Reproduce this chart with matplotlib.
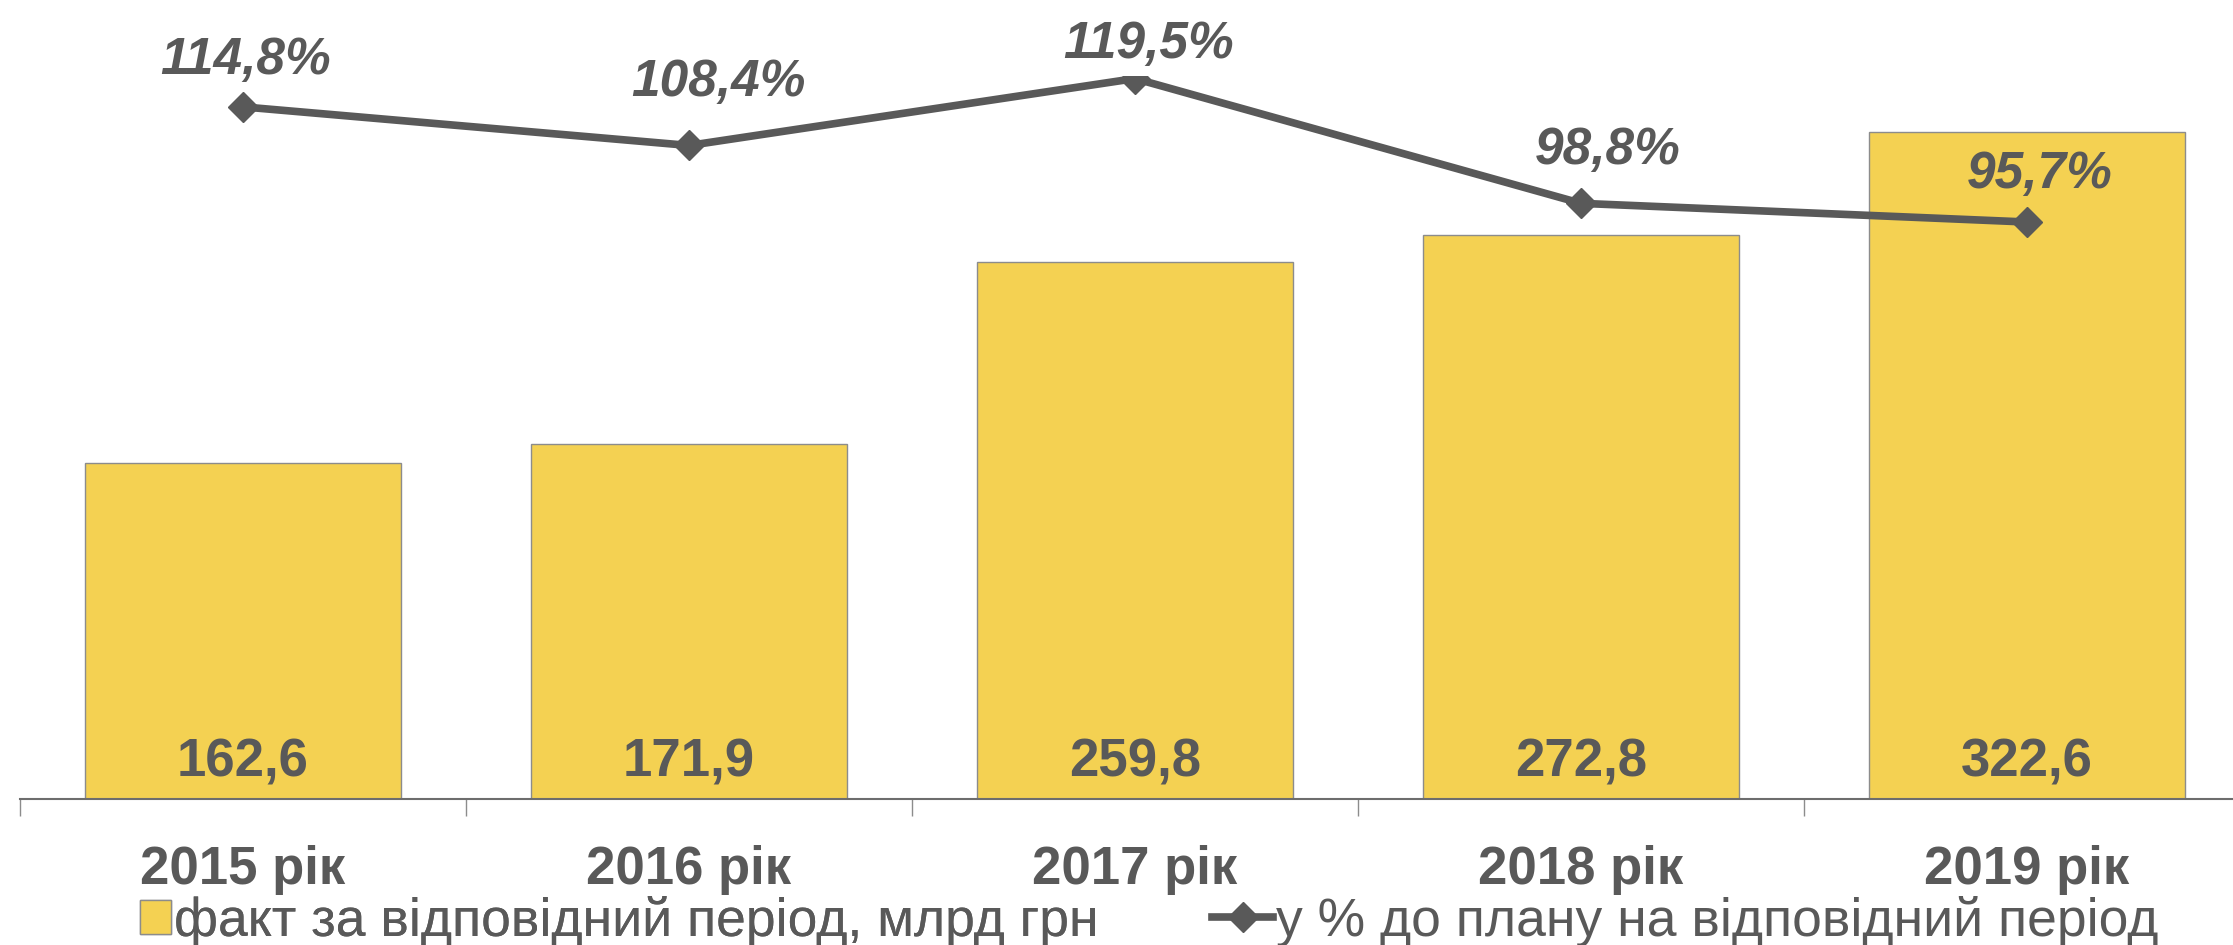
import matplotlib.pyplot as plt
from matplotlib.lines import Line2D
from matplotlib.patches import Patch

years = ['2015 рік', '2016 рік', '2017 рік', '2018 рік', '2019 рік']
fact = [162.6, 171.9, 259.8, 272.8, 322.6]
pct_plan = [114.8, 108.4, 119.5, 98.8, 95.7]

bar_label = 'факт за відповідний період, млрд грн'
line_label = 'у % до плану на відповідний період'

# label offsets (points) for the percent labels, as placed in the original
pct_dx = [2, 21, 10, 19, 9]
pct_dy = [24, 36, 15, 29, 25]

TEXT = '#595959'
BAR = '#F4D152'
plt.rcParams['font.family'] = ['Liberation Sans', 'DejaVu Sans']

fig = plt.figure(figsize=(22.33, 9.455), dpi=100)
ax = fig.add_axes([20 / 2233, 1 - 799 / 945, 2230 / 2233, 723 / 945])
ax2 = ax.twinx()

x = list(range(len(years)))
ax.bar(x, fact, width=0.71, color=BAR, edgecolor='#8c8c8c', linewidth=1, zorder=2)
for xi, v in zip(x, fact):
    ax.text(xi, 11, f'{v:.1f}'.replace('.', ','), ha='center', va='baseline',
            fontsize=38, fontweight='bold', color=TEXT, zorder=3)

ax2.plot(x, pct_plan, color=TEXT, lw=5.5, marker='D', ms=15, zorder=3)
for xi, v, dx, dy in zip(x, pct_plan, pct_dx, pct_dy):
    ax2.annotate(f'{v:.1f}%'.replace('.', ','), (xi, v), xytext=(dx, dy), textcoords='offset points',
                 ha='center', va='baseline', fontsize=37, fontweight='bold', fontstyle='italic', color=TEXT)

ax.set_xlim(-0.5, 4.5)
ax.set_ylim(0, 350)
ax2.set_ylim(0, 120)

for a in (ax, ax2):
    for s in ('top', 'left', 'right'):
        a.spines[s].set_visible(False)
    a.set_yticks([])
ax2.spines['bottom'].set_visible(False)
ax.spines['bottom'].set_color('#6d6d6d')
ax.spines['bottom'].set_linewidth(1.5)

ax.set_xticks([i - 0.5 for i in range(len(years) + 1)])
ax.set_xticklabels([])
ax.tick_params(axis='x', which='major', length=12, width=1, color='#8c8c8c')
ax.set_xticks(x, minor=True)
ax.set_xticklabels(years, minor=True, fontsize=38, fontweight='bold', color=TEXT)
ax.tick_params(axis='x', which='minor', length=0, pad=33)

leg1 = fig.legend(handles=[Patch(facecolor=BAR, edgecolor='#8c8c8c', label=bar_label)],
                  loc='center left', bbox_to_anchor=(140 / 2233, 0.025), frameon=False,
                  fontsize=38.5, handlelength=0.575, handleheight=0.6, handletextpad=0.07,
                  borderpad=0, borderaxespad=0, labelcolor=TEXT)
fig.legend(handles=[Line2D([], [], color=TEXT, lw=5.5, marker='D', ms=15, label=line_label)],
           loc='center left', bbox_to_anchor=(1212 / 2233, 0.025), frameon=False,
           fontsize=38.5, handlelength=1.15, handletextpad=0.04,
           borderpad=0, borderaxespad=0, labelcolor=TEXT)
fig.add_artist(leg1)

fig.savefig('out.png', dpi=100)
